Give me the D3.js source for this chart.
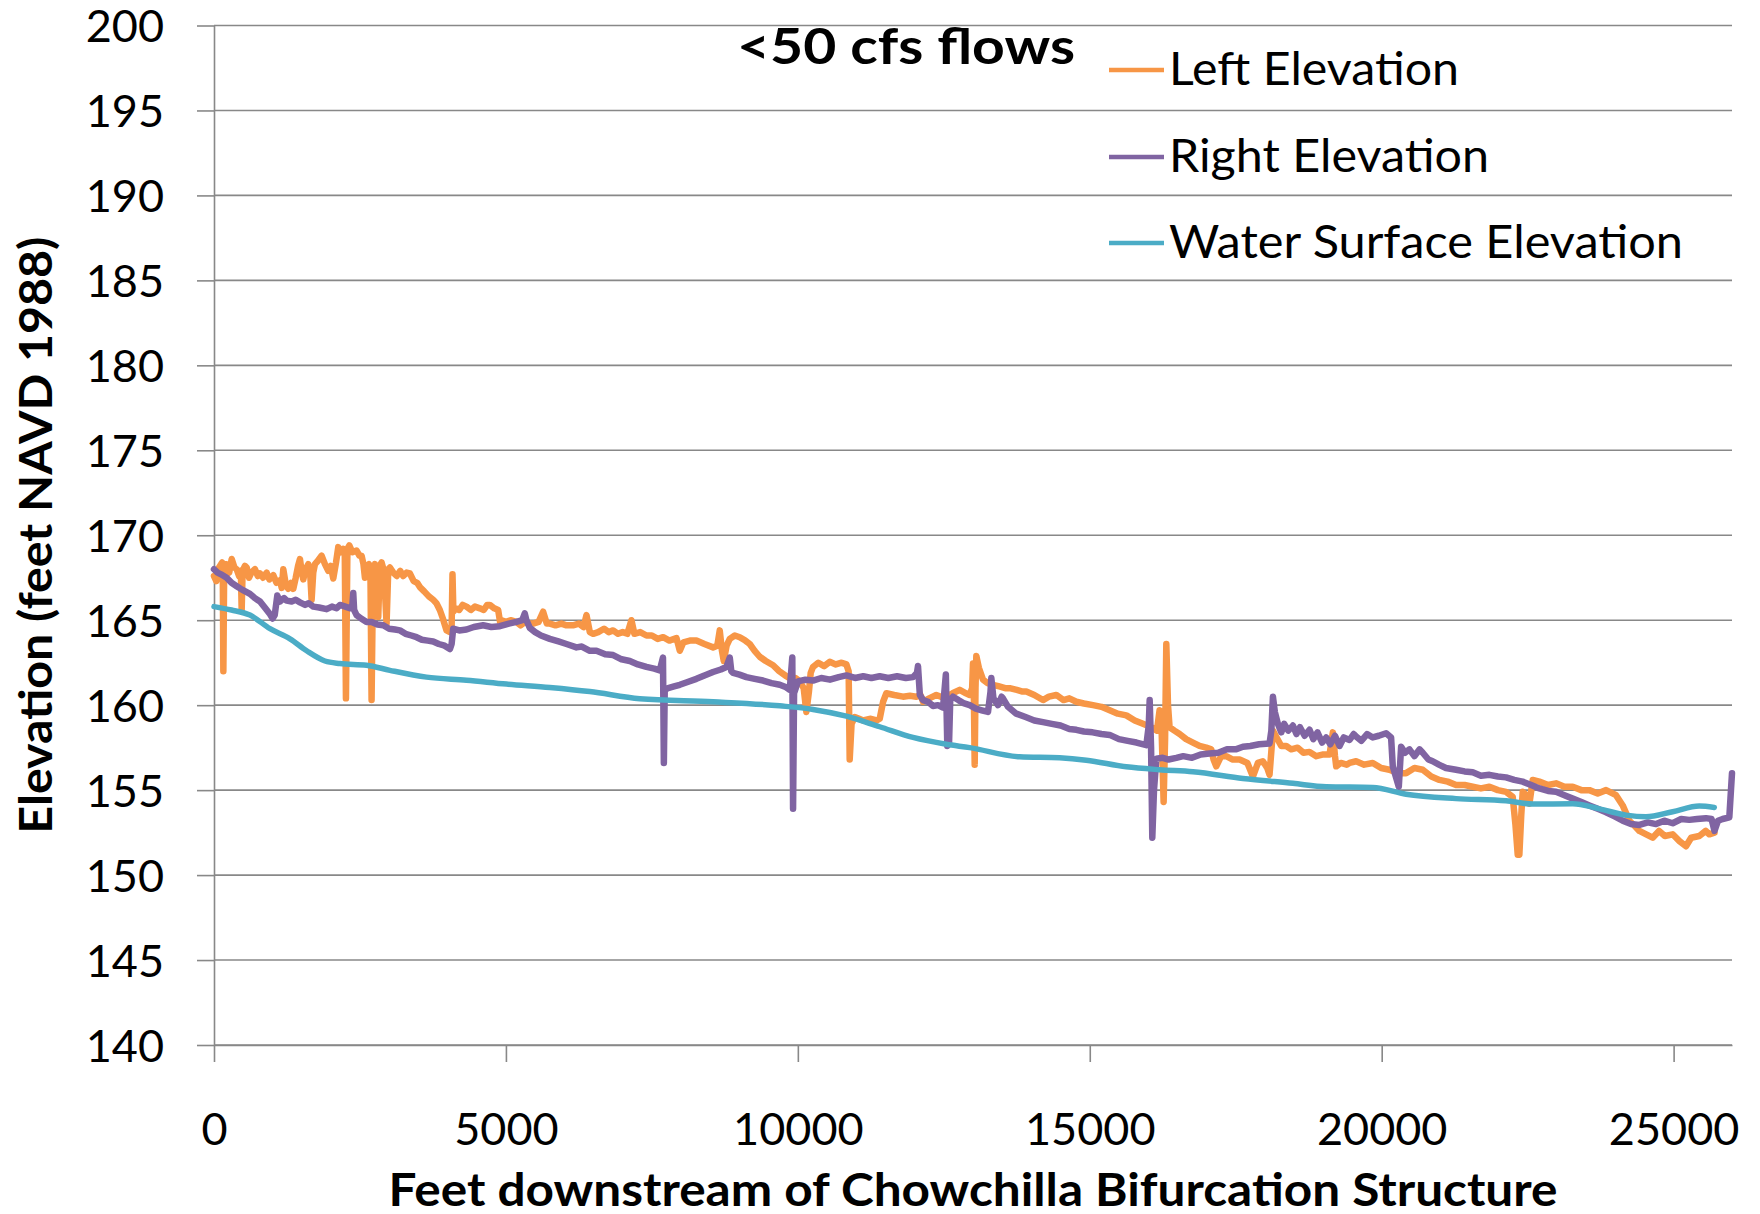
<!DOCTYPE html>
<html>
<head>
<meta charset="utf-8">
<script src="https://cdn.jsdelivr.net/npm/d3@7"></script>
<style>
  body { margin: 0; background: #fff; }
  svg text { font-family: Lato, "Open Sans", sans-serif; fill: #000; }
</style>
</head>
<body>
<div id="chart"></div>
<script>
// Values: [feet downstream, elevation]
var leftElevation = [
  [0,167.6],[40,167.3],[86,168.1],[140,168.4],[150,168.2],[160,162.0],[175,168.3],[217,168.3],[260,167.8],[303,168.6],
  [350,168.1],[388,168.0],[430,167.6],[460,167.9],[474,165.6],[490,167.9],[530,168.2],[560,168.1],[600,167.5],[640,167.8],
  [702,168.0],[750,167.6],[788,167.75],[840,167.5],[902,167.8],[950,167.4],[1016,167.65],[1070,167.2],[1130,167.35],[1160,166.9],
  [1187,168.0],[1230,167.1],[1273,166.85],[1320,167.2],[1358,166.85],[1400,167.5],[1440,168.2],[1472,168.6],[1500,167.9],[1529,167.4],
  [1570,168.0],[1615,168.3],[1650,167.6],[1672,166.2],[1700,167.8],[1729,168.3],[1780,168.5],[1843,168.8],[1900,168.3],[1957,167.9],
  [2000,168.2],[2043,167.45],[2090,168.4],[2128,169.3],[2170,169.0],[2214,169.2],[2240,168.9],[2260,160.4],[2285,169.2],[2317,169.4],
  [2370,169.0],[2442,169.1],[2490,168.8],[2528,168.8],[2560,168.3],[2585,167.5],[2620,168.2],[2653,168.3],[2680,167.6],[2699,160.3],
  [2725,167.9],[2756,168.3],[2790,167.8],[2813,165.2],[2840,168.2],[2870,168.4],[2910,167.9],[2956,164.8],[2985,168.0],[3013,168.1],
  [3070,167.8],[3130,167.6],[3190,167.9],[3241,167.6],[3300,167.8],[3355,167.75],[3420,167.3],[3480,167.2],[3526,166.95],[3600,166.7],
  [3680,166.4],[3754,166.2],[3810,166.0],[3868,165.6],[3920,165.1],[3982,164.4],[4040,164.3],[4070,164.6],[4085,167.7],[4100,165.5],
  [4142,165.7],[4200,165.6],[4260,165.9],[4325,165.8],[4400,165.6],[4470,165.8],[4553,165.7],[4620,165.6],[4680,165.9],[4724,165.9],
  [4800,165.7],[4867,165.6],[4900,164.9],[4924,165.0],[5000,164.9],[5080,165.0],[5181,164.9],[5250,164.7],[5330,164.9],[5400,164.8],
  [5466,164.8],[5560,164.9],[5637,165.5],[5700,164.8],[5752,164.8],[5850,164.7],[5950,164.8],[6037,164.7],[6150,164.7],[6250,164.8],
  [6330,164.6],[6380,165.3],[6437,164.3],[6494,164.2],[6580,164.3],[6680,164.5],[6760,164.3],[6836,164.4],[6920,164.2],[7000,164.3],
  [7080,164.2],[7150,165.0],[7200,164.2],[7300,164.3],[7407,164.1],[7500,164.1],[7600,163.9],[7693,164.0],[7800,163.8],[7921,163.95],
  [7978,163.2],[8040,163.7],[8150,163.8],[8263,163.8],[8400,163.6],[8548,163.4],[8620,163.5],[8662,164.4],[8700,163.2],[8731,162.6],
  [8780,163.5],[8834,163.9],[8920,164.1],[9005,164.0],[9100,163.8],[9176,163.6],[9260,163.2],[9347,162.85],[9450,162.6],[9576,162.35],
  [9680,162.0],[9804,161.7],[9900,161.5],[9960,161.6],[10032,161.4],[10100,161.0],[10146,159.6],[10190,160.8],[10220,161.9],[10260,162.25],
  [10350,162.5],[10450,162.3],[10546,162.55],[10650,162.4],[10750,162.5],[10831,162.4],[10870,162.0],[10888,156.8],[10920,158.9],[10974,159.3],
  [11050,159.2],[11117,159.1],[11250,159.2],[11350,159.1],[11402,159.2],[11460,160.2],[11516,160.7],[11650,160.6],[11801,160.5],[11920,160.55],
  [12029,160.5],[12100,160.6],[12144,160.2],[12250,160.4],[12372,160.6],[12450,160.5],[12543,160.5],[12650,160.7],[12772,160.9],[12880,160.7],
  [12943,160.6],[12985,161.0],[13000,162.45],[13015,160.5],[13029,156.5],[13043,161.0],[13057,162.9],[13100,162.2],[13171,161.5],[13250,161.3],
  [13342,161.2],[13450,161.1],[13550,161.0],[13628,161.0],[13750,160.9],[13850,160.8],[13913,160.8],[14050,160.6],[14199,160.3],[14300,160.5],
  [14427,160.6],[14550,160.3],[14650,160.4],[14770,160.2],[14900,160.1],[15055,160.0],[15200,159.9],[15341,159.7],[15480,159.5],[15626,159.4],
  [15770,159.1],[15911,158.9],[16054,158.7],[16150,158.5],[16196,159.7],[16230,158.6],[16265,154.3],[16290,158.0],[16311,163.6],[16340,160.0],
  [16367,158.7],[16450,158.5],[16539,158.3],[16650,158.0],[16767,157.8],[16880,157.6],[16995,157.5],[17080,157.4],[17120,156.8],[17166,156.4],
  [17250,157.0],[17337,157.0],[17450,156.8],[17566,156.8],[17700,156.6],[17794,155.8],[17880,156.6],[17965,156.7],[18040,156.3],[18079,155.9],
  [18137,158.5],[18200,158.1],[18280,157.6],[18365,157.6],[18450,157.4],[18560,157.5],[18660,157.2],[18764,157.25],[18880,157.0],[19000,157.1],
  [19107,157.1],[19164,158.4],[19200,157.0],[19221,156.4],[19300,156.6],[19400,156.5],[19449,156.6],[19562,156.7],[19700,156.5],[19847,156.6],
  [19990,156.3],[20133,156.2],[20280,156.0],[20418,156.0],[20560,156.3],[20703,156.2],[20850,155.8],[20989,155.6],[21130,155.5],[21274,155.3],
  [21420,155.3],[21559,155.2],[21700,155.1],[21845,155.2],[21990,155.0],[22130,154.9],[22244,154.6],[22290,153.0],[22330,151.2],[22358,151.2],
  [22390,153.5],[22415,154.9],[22480,154.7],[22530,154.2],[22587,155.6],[22700,155.5],[22850,155.3],[22986,155.4],[23130,155.2],[23272,155.2],
  [23420,155.0],[23557,155.0],[23700,154.8],[23843,155.0],[24014,154.7],[24128,154.1],[24242,153.2],[24330,152.9],[24413,152.6],[24530,152.4],
  [24641,152.2],[24750,152.6],[24850,152.3],[24984,152.4],[25100,152.0],[25212,151.7],[25300,152.2],[25440,152.3],[25550,152.6],[25611,152.4],
  [25700,152.5]
];

var rightElevation = [
  [0,168.0],[60,167.8],[120,167.7],[217,167.5],[300,167.2],[388,167.0],[480,166.8],[616,166.55],[700,166.3],[788,166.1],
  [880,165.7],[950,165.4],[1004,165.1],[1040,165.3],[1084,166.45],[1130,166.1],[1200,166.3],[1244,166.15],[1330,166.1],[1400,166.2],
  [1472,166.05],[1560,165.9],[1620,166.0],[1700,165.8],[1800,165.75],[1929,165.65],[2020,165.8],[2100,165.7],[2157,165.9],[2250,165.8],
  [2328,165.7],[2370,165.9],[2385,166.6],[2400,165.6],[2442,165.3],[2520,165.1],[2613,164.9],[2700,164.9],[2800,164.75],[2899,164.7],
  [3000,164.5],[3100,164.45],[3184,164.4],[3280,164.2],[3380,164.1],[3469,164.0],[3560,163.85],[3660,163.8],[3754,163.75],[3850,163.6],
  [3950,163.5],[4040,163.3],[4070,163.6],[4097,164.5],[4200,164.4],[4325,164.45],[4450,164.6],[4610,164.7],[4750,164.6],[4896,164.65],
  [5050,164.8],[5181,164.9],[5280,165.0],[5323,165.4],[5350,165.0],[5409,164.55],[5500,164.3],[5600,164.1],[5752,163.9],[5900,163.75],
  [6037,163.6],[6208,163.4],[6300,163.45],[6437,163.2],[6551,163.2],[6700,163.0],[6836,162.95],[6980,162.7],[7122,162.6],[7260,162.4],
  [7407,162.25],[7540,162.15],[7635,162.05],[7690,162.8],[7705,156.6],[7720,160.9],[7778,161.0],[7880,161.1],[7978,161.2],[8100,161.35],
  [8263,161.55],[8400,161.75],[8548,161.95],[8680,162.1],[8776,162.25],[8834,162.8],[8860,162.0],[8891,161.9],[9000,161.8],[9119,161.65],
  [9260,161.55],[9404,161.45],[9550,161.3],[9690,161.2],[9800,161.05],[9861,160.9],[9905,162.8],[9918,153.9],[9935,160.7],[10003,161.4],
  [10130,161.5],[10260,161.45],[10400,161.6],[10550,161.5],[10700,161.65],[10831,161.75],[10980,161.6],[11120,161.7],[11260,161.6],[11402,161.7],
  [11550,161.6],[11700,161.7],[11850,161.6],[11972,161.65],[12040,161.9],[12058,162.3],[12090,160.6],[12144,160.3],[12230,160.2],[12315,159.95],
  [12400,160.0],[12486,159.85],[12535,161.8],[12560,157.6],[12590,157.8],[12610,160.3],[12657,160.5],[12750,160.3],[12850,160.1],[12943,160.0],
  [13050,159.8],[13150,159.7],[13257,159.6],[13300,160.8],[13314,161.6],[13350,160.4],[13428,160.0],[13490,160.5],[13513,160.4],[13600,159.9],
  [13741,159.5],[13900,159.3],[14050,159.1],[14199,159.0],[14350,158.9],[14500,158.8],[14650,158.6],[14770,158.55],[14900,158.45],[15050,158.4],
  [15200,158.3],[15341,158.25],[15500,158.0],[15650,157.9],[15800,157.8],[15969,157.65],[16010,158.8],[16026,160.3],[16050,157.5],[16071,152.2],
  [16100,155.0],[16140,156.85],[16250,156.9],[16350,156.8],[16482,156.9],[16600,157.0],[16750,156.9],[16900,157.1],[17052,157.15],[17200,157.2],
  [17350,157.4],[17500,157.4],[17623,157.55],[17750,157.6],[17900,157.7],[18079,157.75],[18110,158.5],[18137,160.5],[18170,159.6],[18222,158.9],
  [18280,158.4],[18330,158.9],[18400,158.5],[18479,158.8],[18540,158.3],[18600,158.7],[18680,158.2],[18764,158.55],[18830,158.0],[18900,158.4],
  [18980,157.8],[19050,158.1],[19120,157.7],[19200,158.2],[19278,157.6],[19350,158.1],[19449,157.95],[19520,158.3],[19562,158.15],[19650,157.9],
  [19750,158.3],[19847,158.1],[19950,158.2],[20076,158.35],[20161,158.1],[20190,156.4],[20293,155.2],[20333,157.55],[20400,157.2],[20475,157.4],
  [20560,157.0],[20650,157.4],[20703,157.2],[20800,156.8],[20874,156.7],[20980,156.5],[21100,156.3],[21274,156.2],[21420,156.1],[21559,156.05],
  [21700,155.85],[21845,155.9],[21990,155.8],[22130,155.75],[22270,155.6],[22415,155.5],[22560,155.3],[22701,155.1],[22850,154.95],[22986,154.9],
  [23130,154.7],[23272,154.5],[23420,154.3],[23557,154.1],[23700,153.9],[23843,153.7],[23990,153.45],[24128,153.2],[24270,153.0],[24413,152.95],
  [24560,153.1],[24698,153.0],[24840,153.2],[24984,153.05],[25130,153.3],[25269,153.25],[25400,153.3],[25554,153.35],[25650,153.3],[25700,152.6],
  [25760,153.2],[25840,153.3],[25954,153.4],[26000,156.0]
];

var waterSurfaceElevation = [
  [0,165.8],[300,165.6],[616,165.3],[959,164.5],[1301,163.9],[1587,163.2],[1900,162.6],[2157,162.45],[2613,162.35],[3013,162.05],
  [3640,161.65],[4325,161.47],[5010,161.24],[5752,161.04],[6437,160.8],[7293,160.38],[8548,160.2],[9690,159.96],[10260,159.75],[10831,159.35],
  [11402,158.73],[11972,158.1],[12543,157.7],[12943,157.5],[13799,156.96],[14484,156.9],[14941,156.76],[15626,156.37],[16196,156.2],[16767,156.08],
  [17623,155.69],[18479,155.4],[19050,155.2],[19847,155.16],[20418,154.76],[21274,154.5],[22130,154.37],[22587,154.18],[23272,154.2],[23728,153.9],
  [24185,153.53],[24527,153.43],[24984,153.73],[25440,154.06],[25697,153.98]
];

var xTicks = [0, 5000, 10000, 15000, 20000, 25000];
var yTicks = [140, 145, 150, 155, 160, 165, 170, 175, 180, 185, 190, 195, 200];

var series = [
  { name: "Left Elevation", color: "#F79646", width: 6.5, values: leftElevation, curve: d3.curveLinear, labelLen: 290 },
  { name: "Right Elevation", color: "#8064A2", width: 6.5, values: rightElevation, curve: d3.curveLinear, labelLen: 320 },
  { name: "Water Surface Elevation", color: "#4BACC6", width: 5.5, values: waterSurfaceElevation, curve: d3.curveMonotoneX, labelLen: 514 }
];

var W = 1760, H = 1214;
var margin = { top: 25.5, right: 28, bottom: 169, left: 214 };

var x = d3.scaleLinear().domain([0, 26000]).range([margin.left, W - margin.right]);
var y = d3.scaleLinear().domain([140, 200]).range([H - margin.bottom, margin.top]);

var svg = d3.select("#chart").append("svg")
  .attr("width", W)
  .attr("height", H);

svg.append("rect").attr("width", W).attr("height", H).attr("fill", "#fff");

var gridColor = "#888888";

// horizontal gridlines
svg.append("g")
  .selectAll("line")
  .data(yTicks)
  .enter().append("line")
  .attr("x1", x(0))
  .attr("x2", x(26000))
  .attr("y1", function(d) { return y(d); })
  .attr("y2", function(d) { return y(d); })
  .attr("stroke", gridColor)
  .attr("stroke-width", 1.6);

// Y axis
var yAxis = svg.append("g")
  .attr("transform", "translate(" + x(0) + ",0)")
  .call(d3.axisLeft(y).tickValues(yTicks).tickSize(17).tickSizeOuter(0).tickPadding(33));

// X axis
var xAxis = svg.append("g")
  .attr("transform", "translate(0," + y(140) + ")")
  .call(d3.axisBottom(x).tickValues(xTicks).tickSize(17).tickSizeOuter(0).tickFormat(d3.format("d")));

[yAxis, xAxis].forEach(function(a) {
  a.select(".domain").attr("stroke", gridColor).attr("stroke-width", 1.6);
  a.selectAll(".tick line").attr("stroke", gridColor).attr("stroke-width", 1.6);
  a.selectAll(".tick text")
    .attr("fill", "#000")
    .style("font-size", "45px")
    .style("font-family", "Lato, 'Open Sans', sans-serif");
});
yAxis.selectAll(".tick text").attr("dy", "0.36em");
xAxis.selectAll(".tick text").attr("y", 100).attr("dy", 0);

// data lines
var plot = svg.append("g");
series.forEach(function(s) {
  var line = d3.line()
    .x(function(d) { return x(d[0]); })
    .y(function(d) { return y(d[1]); })
    .curve(s.curve);
  plot.append("path")
    .datum(s.values)
    .attr("fill", "none")
    .attr("stroke", s.color)
    .attr("stroke-width", s.width)
    .attr("stroke-linejoin", "round")
    .attr("stroke-linecap", "round")
    .attr("d", line);
});

// title
svg.append("text")
  .attr("x", 737)
  .attr("y", 64)
  .attr("textLength", 338)
  .attr("lengthAdjust", "spacingAndGlyphs")
  .style("font-size", "50px")
  .style("font-weight", "bold")
  .text("<50 cfs flows");

// legend
var legend = svg.append("g");
var legendRows = [85, 172, 258];
series.forEach(function(s, i) {
  legend.append("line")
    .attr("x1", 1109).attr("x2", 1164)
    .attr("y1", legendRows[i] - 15).attr("y2", legendRows[i] - 15)
    .attr("stroke", s.color)
    .attr("stroke-width", 4.5);
  legend.append("text")
    .attr("x", 1169)
    .attr("y", legendRows[i])
    .attr("textLength", s.labelLen)
    .attr("lengthAdjust", "spacingAndGlyphs")
    .style("font-size", "46px")
    .text(s.name);
});

// axis titles
svg.append("text")
  .attr("x", (x(0) + x(26000)) / 2)
  .attr("y", 1206)
  .attr("text-anchor", "middle")
  .attr("textLength", 1169)
  .attr("lengthAdjust", "spacingAndGlyphs")
  .style("font-size", "45px")
  .style("font-weight", "bold")
  .text("Feet downstream of Chowchilla Bifurcation Structure");

svg.append("text")
  .attr("transform", "translate(52," + ((y(140) + y(200)) / 2) + ") rotate(-90)")
  .attr("text-anchor", "middle")
  .attr("textLength", 597)
  .attr("lengthAdjust", "spacingAndGlyphs")
  .style("font-size", "45px")
  .style("font-weight", "bold")
  .text("Elevation (feet NAVD 1988)");
</script>
</body>
</html>
